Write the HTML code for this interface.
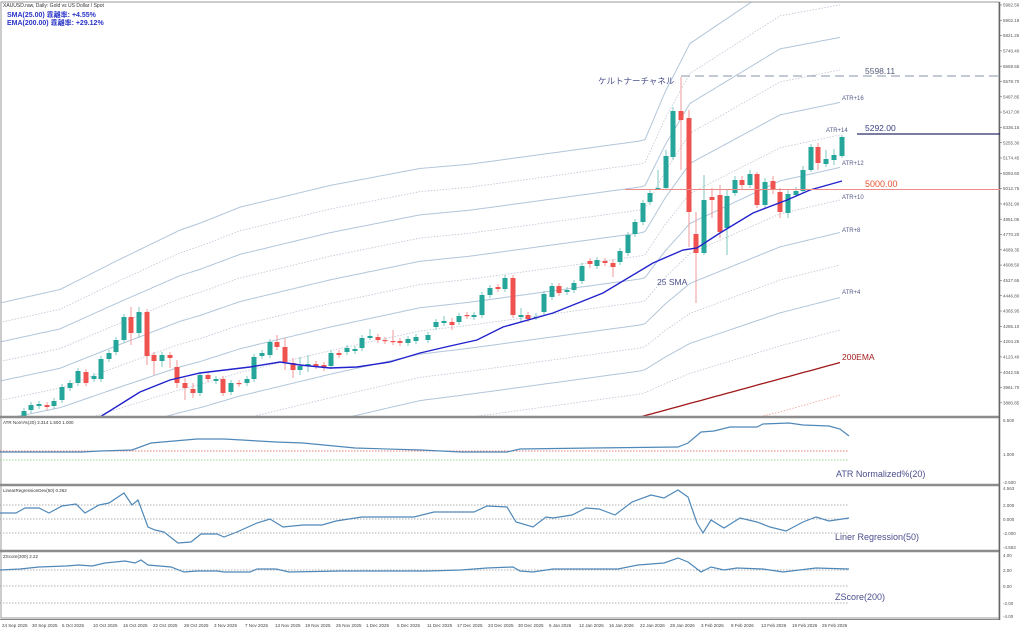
<!DOCTYPE html>
<html><head><meta charset="utf-8"><style>
html,body{margin:0;padding:0;background:#fff;width:1024px;height:630px;overflow:hidden}
svg{display:block}
text{font-family:"Liberation Sans","Noto Sans CJK JP",sans-serif}
</style></head><body>
<svg id="s" width="1024" height="630" viewBox="0 0 1024 630" xmlns="http://www.w3.org/2000/svg">
<rect width="1024" height="630" fill="#fff"/>
<g id="bands"></g>
<g id="main"></g>
<g stroke="#9a9a9a" fill="none">
<rect x="1" y="2" width="998" height="616" stroke-width="1"/>
</g>
<g stroke="#8c8c8c" stroke-width="2.5">
<line x1="0" y1="417" x2="1000" y2="417"/>
<line x1="0" y1="485" x2="1000" y2="485"/>
<line x1="0" y1="551" x2="1000" y2="551"/>
</g>
<line x1="0" y1="619.5" x2="1000" y2="619.5" stroke="#888" stroke-width="1"/>
<line x1="999.5" y1="2" x2="999.5" y2="620" stroke="#666" stroke-width="1.5"/>
<text x="3" y="7" font-size="5" fill="#333">XAUUSD.raw, Daily:  Gold vs US Dollar / Spot</text>
<text x="7" y="17" font-size="7" font-weight="bold" fill="#2a35c8">SMA(25.00) 乖離率: +4.55%</text>
<text x="7" y="25" font-size="7" font-weight="bold" fill="#2a35c8">EMA(200.00) 乖離率: +29.12%</text>
<text x="598" y="84" font-size="8.5" fill="#4b4f8c">ケルトナーチャネル</text>
<text x="657" y="285" font-size="8.5" fill="#4b4f8c">25 SMA</text>
<line x1="681" y1="76" x2="1000" y2="76" stroke="#8a94aa" stroke-width="1" stroke-dasharray="9,5"/>
<text x="865" y="74" font-size="8.5" fill="#555a7a">5598.11</text>
<line x1="857" y1="134" x2="1000" y2="134" stroke="#2a2f6a" stroke-width="1.2"/>
<text x="865" y="131" font-size="8.5" fill="#3a3f80">5292.00</text>
<line x1="625" y1="189.5" x2="1000" y2="189.5" stroke="#f08a8a" stroke-width="1"/>
<text x="865" y="187" font-size="9" fill="#e8542f">5000.00</text>
<g font-size="6" fill="#555a8a">
<text x="842" y="100">ATR+16</text>
<text x="826" y="132">ATR+14</text>
<text x="842" y="165">ATR+12</text>
<text x="842" y="199">ATR+10</text>
<text x="842" y="232">ATR+8</text>
<text x="842" y="294">ATR+4</text>
</g>
<text x="842" y="360" font-size="8.5" fill="#a02020">200EMA</text>
<g font-size="4.5" fill="#555" id="yax"></g>
<g id="subs"></g>
<text x="3" y="424" font-size="4.5" fill="#333">ATR Norm%(20) 3.314 1.500 1.000</text>
<text x="3" y="492" font-size="4.5" fill="#333">LinearRegressionDev(50) 0.262</text>
<text x="3" y="558" font-size="4.5" fill="#333">ZScore(200) 2.22</text>
<text x="836" y="477" font-size="9" fill="#4b4f8c">ATR Normalized%(20)</text>
<text x="835" y="540" font-size="9" fill="#4b4f8c">Liner Regression(50)</text>
<text x="835" y="600" font-size="9" fill="#4b4f8c">ZScore(200)</text>
<g font-size="4.5" fill="#555">
<text x="1003" y="422">5.500</text><text x="1003" y="456">1.000</text><text x="1003" y="484">-2.500</text>
<text x="1003" y="490">4.563</text><text x="1003" y="507">2.000</text><text x="1003" y="521">0.000</text><text x="1003" y="535">-2.000</text><text x="1003" y="549">-4.563</text>
<text x="1003" y="557">4.00</text><text x="1003" y="572">2.00</text><text x="1003" y="588">0.00</text><text x="1003" y="605">-2.00</text><text x="1003" y="618">-4.00</text>
</g>
<g font-size="4.5" fill="#444">
<text x="2" y="627">24 Sep 2025</text><text x="32" y="627">30 Sep 2025</text><text x="62" y="627">6 Oct 2025</text><text x="93" y="627">10 Oct 2025</text><text x="123" y="627">16 Oct 2025</text><text x="153" y="627">22 Oct 2025</text><text x="184" y="627">28 Oct 2025</text><text x="214" y="627">3 Nov 2025</text><text x="245" y="627">7 Nov 2025</text><text x="275" y="627">13 Nov 2025</text><text x="305" y="627">19 Nov 2025</text><text x="336" y="627">25 Nov 2025</text><text x="366" y="627">1 Dec 2025</text><text x="397" y="627">5 Dec 2025</text><text x="427" y="627">11 Dec 2025</text><text x="457" y="627">17 Dec 2025</text><text x="488" y="627">23 Dec 2025</text><text x="518" y="627">30 Dec 2025</text><text x="549" y="627">6 Jan 2026</text><text x="579" y="627">12 Jan 2026</text><text x="609" y="627">16 Jan 2026</text><text x="640" y="627">22 Jan 2026</text><text x="670" y="627">28 Jan 2026</text><text x="701" y="627">3 Feb 2026</text><text x="731" y="627">9 Feb 2026</text><text x="761" y="627">13 Feb 2026</text><text x="792" y="627">19 Feb 2026</text><text x="822" y="627">25 Feb 2026</text>
</g>
</svg>
<script>
var NS="http://www.w3.org/2000/svg";
function el(p,t,a){var e=document.createElementNS(NS,t);for(var k in a)e.setAttribute(k,a[k]);p.appendChild(e);return e;}
function interp(kn,x){if(x<=kn[0][0])return kn[0][1];for(var i=1;i<kn.length;i++){if(x<=kn[i][0]){var a=kn[i-1],b=kn[i];return a[1]+(b[1]-a[1])*(x-a[0])/(b[0]-a[0]);}}return kn[kn.length-1][1];}
var svg=document.getElementById('s');
var yax=document.getElementById('yax');
var labs=["5982.56","5902.18","5821.25","5740.40","5659.55","5578.70","5497.85","5417.00","5336.15","5255.30","5174.45","5093.60","5012.75","4931.90","4851.05","4770.20","4689.35","4608.50","4527.65","4446.80","4365.95","4285.10","4204.25","4123.40","4042.55","3961.70","3880.85"];
labs.forEach(function(l,i){var y=5+i*15.3;var t=el(yax,'text',{x:1003,y:y+1.6});t.textContent=l;el(svg,'line',{x1:999,y1:y,x2:1002,y2:y,stroke:'#666','stroke-width':0.6});});
var E=[[0,537],[200,500],[420,447],[640,417],[842,362]];
var S=[[0,19.5],[60,19.7],[120,21.3],[180,22.8],[240,23.6],[330,23.6],[470,23],[645,23],[665,26.5],[690,30],[780,33],[842,32.5]];
var bands=document.getElementById('bands');
var cp=el(bands,'clipPath',{id:'cl'});el(cp,'rect',{x:1,y:2,width:998,height:414});
var bg=el(bands,'g',{'clip-path':'url(#cl)'});
for(var n=-1;n<=12;n++){if(n==0)continue;var pts=[];for(var x=0;x<=842;x+=3){pts.push(x+','+(interp(E,x)-n*interp(S,x)).toFixed(1));}
 var solid=(n%2==0)&&n>0;var col=n<0?'#f0a090':(solid?'#b2c6da':'#bcc4d3');
 el(bg,'polyline',{points:pts.join(' '),fill:'none',stroke:col,'stroke-width':solid?1:0.8,'stroke-dasharray':solid?'':'1.5,1.5'});}
var ep=[];for(var x=600;x<=842;x+=4)ep.push(x+','+interp(E,x).toFixed(1));
el(bg,'polyline',{points:ep.join(' '),fill:'none',stroke:'#a01818','stroke-width':1.3});
var main=document.getElementById('main');
var mg=el(main,'g',{'clip-path':'url(#cl)'});
var C=[[24,411,417,'g'],[31,405,410,'g'],[39,404,406,'g'],[47,405,407,'r'],[54,401,406,'g'],[62,387,400,'g'],[70,383,388,'g'],[78,371,383,'g'],[86,372,383,'r'],[94,376,379,'g'],[101,359,379,'g'],[109,353,359,'g'],[116,340,352,'g'],[124,317,340,'g'],[131,317,333,'r',307,345],[139,312,333,'g',307,338],[147,312,356,'r',309,365],[154,355,361,'r',352,375],[162,355,361,'g',352,367],[170,355,358,'r',352,368],[177,367,383,'r',360,388],[185,383,388,'r',378,400],[193,389,393,'r',383,398],[200,375,393,'g'],[208,375,379,'r'],[216,379,381,'g'],[223,379,393,'r'],[231,383,392,'g'],[239,383,384,'r'],[247,379,383,'g'],[254,357,379,'g'],[262,353,356,'g'],[270,342,355,'g'],[277,342,347,'r',335,350],[285,347,362,'r',338,370],[293,363,370,'r',358,378],[300,366,370,'g',357,375],[308,364,366,'g',355,372],[316,364,366,'r'],[324,365,368,'r'],[331,353,366,'g'],[339,353,355,'r'],[347,348,352,'g'],[355,349,351,'g'],[362,338,348,'g'],[370,336,338,'g',329,340],[378,337,340,'r'],[385,340,341,'r'],[393,341,342,'r',330,345],[400,341,343,'r'],[408,339,343,'g'],[416,337,341,'g'],[428,335,340,'g'],[436,322,327,'g'],[444,321,323,'g',316,326],[452,322,325,'r',318,330],[459,316,322,'g'],[467,315,316,'r'],[474,315,317,'g'],[482,295,315,'g'],[490,288,295,'g'],[498,287,289,'r'],[505,278,289,'g'],[513,278,315,'r'],[521,315,317,'g',308,322],[528,315,319,'r'],[536,317,318,'g',313,320],[544,294,312,'g'],[552,286,297,'g'],[559,286,293,'r'],[567,290,292,'g'],[574,283,290,'g'],[582,266,281,'g'],[590,261,264,'r',258,268],[597,260,266,'g'],[605,261,263,'r'],[613,263,267,'r',259,277],[620,251,262,'g'],[628,235,253,'g'],[635,222,234,'g'],[643,203,222,'g'],[650,193,202,'g'],[658,188,189,'g',170,190],[666,156,188,'g',150,190],[673,111,157,'g',107,160],[681,111,120,'r',77,170],[689,118,212,'r',110,247],[696,234,253,'r',212,303],[704,200,253,'g',175,255],[712,197,200,'r',188,218],[720,195,232,'r',185,238],[727,196,228,'g',190,255],[735,180,193,'g',176,196],[742,180,185,'r',176,190],[750,174,185,'g',170,188],[757,174,205,'r',172,208],[765,182,205,'g',178,208],[773,181,190,'r',176,194],[780,192,212,'r',188,218],[788,194,213,'g',190,218],[796,191,195,'g',187,197],[803,170,191,'g',166,193],[811,147,170,'g',144,172],[818,147,163,'r',143,170],[826,159,164,'g',150,167],[834,155,160,'g',149,165],[842,137,156,'g',135,158]];
C.forEach(function(c){var col=c[3]=='g'?'#26a69a':'#ef5350';var hi=c[4]||c[1]-3,lo=c[5]||c[2]+3;
 el(mg,'line',{x1:c[0],y1:hi,x2:c[0],y2:lo,stroke:c[3]=='g'?'#7fc8c0':'#f09a98','stroke-width':1});
 el(mg,'rect',{x:c[0]-2.5,y:c[1],width:5,height:Math.max(1.2,c[2]-c[1]),fill:col});});
var sma=[[92,418],[100,417],[140,392],[170,380],[200,373],[250,367],[280,362],[300,365],[330,368],[357,367],[390,362],[420,353],[450,346],[477,340],[503,327],[553,313],[603,293],[653,263],[683,250],[697,248],[720,233],[753,213],[787,200],[810,190],[842,181]];
el(mg,'polyline',{points:sma.map(function(p){return p.join(',')}).join(' '),fill:'none',stroke:'#2222cc','stroke-width':1.4});
var subs=document.getElementById('subs');
function dl(y,c){el(subs,'line',{x1:0,y1:y,x2:849,y2:y,stroke:c,'stroke-width':0.8,'stroke-dasharray':'1.5,1.5'});}
dl(451,'#e05050');dl(460,'#70d070');
dl(505,'#999');dl(519,'#999');dl(533,'#999');
dl(570,'#999');dl(586,'#999');dl(603,'#999');
function pl(a){el(subs,'polyline',{points:a.map(function(p){return p.join(',')}).join(' '),fill:'none',stroke:'#4f88b8','stroke-width':1.2});}
pl([[0,452],[82,452],[100,451],[132,450],[151,443],[197,439],[224,439],[276,442],[303,443],[355,448],[421,450],[461,452],[507,452],[520,449],[592,448],[678,447],[688,443],[701,432],[714,431],[730,427],[757,427],[763,424],[789,423],[803,425],[829,426],[840,429],[849,436]]);
pl([[0,513],[16,513],[25,508],[39,508],[49,513],[62,506],[76,504],[85,513],[99,505],[109,503],[124,493],[132,505],[138,500],[148,527],[155,530],[164,532],[178,543],[191,542],[201,534],[217,534],[224,537],[237,532],[257,523],[270,519],[283,527],[303,525],[322,525],[336,521],[362,517],[395,517],[414,517],[434,512],[461,512],[474,512],[487,506],[507,507],[516,522],[533,527],[546,517],[553,518],[572,515],[586,508],[599,509],[615,515],[632,502],[651,495],[664,498],[678,490],[688,497],[697,523],[703,533],[711,520],[724,528],[740,518],[757,522],[770,527],[786,531],[803,522],[816,517],[829,521],[849,518]]);
pl([[0,570],[20,569],[39,567],[66,566],[79,565],[92,566],[105,563],[125,561],[135,563],[141,560],[148,565],[171,567],[184,572],[197,571],[217,571],[224,572],[250,572],[257,569],[276,569],[289,572],[342,571],[382,571],[428,571],[461,570],[487,568],[513,567],[520,571],[533,572],[553,569],[592,569],[618,569],[638,565],[651,564],[664,563],[678,558],[688,562],[701,572],[711,567],[724,570],[737,568],[763,569],[783,572],[816,568],[849,569]]);
</script>
</body></html>
